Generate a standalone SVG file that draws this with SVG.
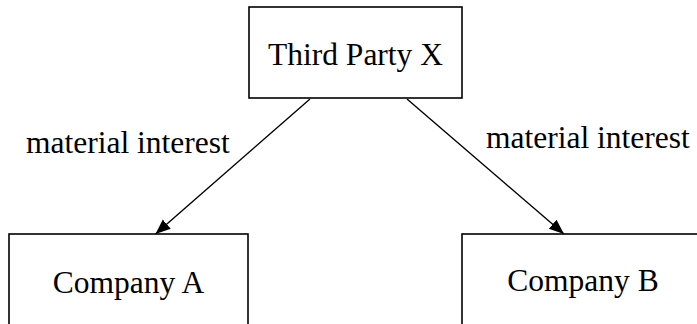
<svg xmlns="http://www.w3.org/2000/svg" width="697" height="324" viewBox="0 0 697 324">
<style>
.box{fill:#fff;stroke:#000;stroke-width:1.6}
.t{font-family:"Liberation Serif","Times New Roman",serif;font-size:31.5px;fill:#000}
.c{stroke:#000;stroke-width:1.4;fill:none}
</style>
<defs>
<marker id="ah" markerUnits="userSpaceOnUse" markerWidth="16" markerHeight="14" refX="15" refY="6" orient="auto" viewBox="0 0 16 12">
<path d="M0,0 L15,6 L0,12 Z" fill="#000"/>
</marker>
</defs>
<rect width="697" height="324" fill="#fff"/>
<g id="connectors">
<line class="c" x1="310" y1="99" x2="155.5" y2="234" marker-end="url(#ah)"/>
<line class="c" x1="407" y1="99" x2="564" y2="234" marker-end="url(#ah)"/>
<text class="t" x="26" y="153">material interest</text>
<text class="t" x="486" y="148">material interest</text>
</g>
<g id="thirdParty">
<rect class="box" x="249" y="7" width="213" height="91"/>
<text class="t" x="355.5" y="65" text-anchor="middle">Third Party X</text>
</g>
<g id="companyA">
<rect class="box" x="9" y="234" width="239" height="110"/>
<text class="t" x="128.5" y="293" text-anchor="middle">Company A</text>
</g>
<g id="companyB">
<rect class="box" x="462" y="234" width="250" height="110"/>
<text class="t" x="583" y="291" text-anchor="middle">Company B</text>
</g>
</svg>
